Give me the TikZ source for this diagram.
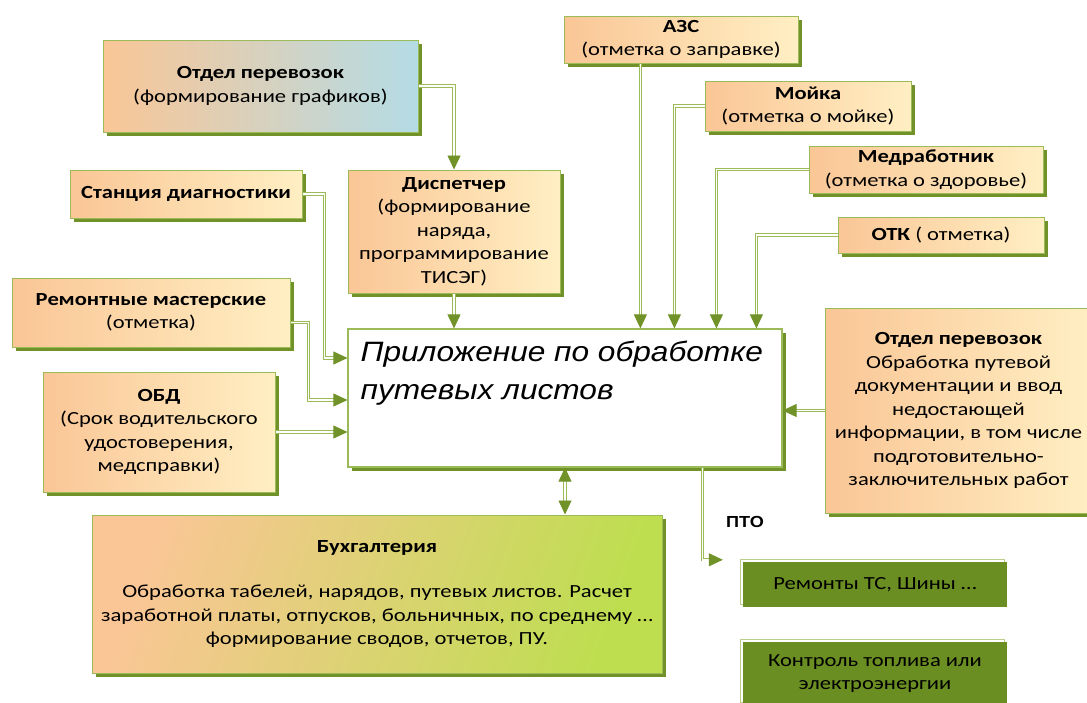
\documentclass[tikz,border=0pt]{standalone}
\usepackage{fontspec}
\setmainfont[FakeStretch=1.22]{Carlito}
\newfontfamily\arialfont[FakeStretch=1.13]{Liberation Sans}
\usetikzlibrary{arrows.meta,calc}
\definecolor{peach}{RGB}{250,198,150}
\definecolor{cream}{RGB}{255,239,195}
\definecolor{paleblue}{RGB}{180,220,230}
\definecolor{leaf}{RGB}{155,187,89}
\definecolor{olive}{RGB}{112,146,40}
\definecolor{lime}{RGB}{190,222,80}
\definecolor{ptogreen}{RGB}{107,142,35}

\begin{document}
\begin{tikzpicture}[x=1pt,y=-1pt]
\tikzstyle{shadowed}=[preaction={fill=olive,transform canvas={shift={(4pt,-4pt)}}}]
\tikzstyle{box}=[shadowed,draw=leaf,line width=1pt,left color=peach,right color=cream,
  align=center,inner sep=0pt,font=\fontsize{18.5}{23.5}\selectfont]
\tikzstyle{appbox}=[shadowed,draw=leaf,line width=1.2pt,fill=white,inner sep=0pt]
\tikzstyle{ptobox}=[preaction={fill=white,draw=leaf!70,line width=0.8pt,transform canvas={shift={(-3pt,3pt)}}},
  fill=ptogreen,align=center,inner sep=0pt,font=\fontsize{18.5}{23.5}\selectfont]
\tikzstyle{link}=[draw=leaf,line width=0.8pt,double=white,double distance=1.6pt,
  -{Triangle[length=14pt,width=13pt,color=olive]}]
\useasboundingbox (0,0) rectangle (1087,702);

\node [box,minimum width=315,minimum height=92,right color=paleblue] (perev) at (260.5,86)
  {\textbf{Отдел перевозок}\\(формирование графиков)};
\node [box,minimum width=232,minimum height=48] (diag) at (186,194) {\textbf{Станция диагностики}};
\node [box,minimum width=212,minimum height=123] (disp) at (454,231.5)
  {\textbf{Диспетчер}\\(формирование\\наряда,\\программирование\\ТИСЭГ)};
\node [box,minimum width=234,minimum height=47] (azs) at (681,39.5) {\textbf{АЗС}\\(отметка о заправке)};
\node [box,minimum width=206,minimum height=50] (moika) at (808,106) {\textbf{Мойка}\\(отметка о мойке)};
\node [box,minimum width=234,minimum height=47] (medr) at (926,169.5) {\textbf{Медработник}\\(отметка о здоровье)};
\node [box,minimum width=206,minimum height=36] (otk) at (941,235) {\textbf{ОТК} ( отметка)};
\node [box,minimum width=278,minimum height=69] (remont) at (151,312.5) {\textbf{Ремонтные мастерские}\\(отметка)};
\node [box,minimum width=232,minimum height=120] (obd) at (159,432)
  {\textbf{ОБД}\\(Срок водительского\\удостоверения,\\медсправки)};
\node [appbox,minimum width=434,minimum height=138,
  label={[anchor=north west,xshift=13pt,yshift=-12pt,align=left,inner sep=0pt,
  font=\arialfont\itshape\fontsize{28}{38}\selectfont]north west:Приложение по обработке\\путевых листов}]
  (app) at (565,398) {};
\node [box,minimum width=267,minimum height=205] (perev2) at (958.5,410.5)
  {\textbf{Отдел перевозок}\\Обработка путевой\\документации и ввод\\недостающей\\информации, в том числе\\подготовительно-\\заключительных работ};
\node [box,minimum width=570,minimum height=158,right color=lime,shading angle=70] (buh) at (377,594)
  {\textbf{Бухгалтерия}\\[22pt]Обработка табелей, нарядов, путевых листов. Расчет\\заработной платы, отпусков, больничных, по среднему …\\формирование сводов, отчетов, ПУ.};
\node [ptobox,minimum width=264,minimum height=45] (remts) at (875,584.5) {Ремонты ТС, Шины …};
\node [ptobox,minimum width=264,minimum height=63] (fuel) at (875,673.5) {Контроль топлива или\\электроэнергии};
\node [font=\arialfont\bfseries\fontsize{16}{18}\selectfont] (pto) at (745,522) {ПТО};

\coordinate (in1) at ($(app.north west)+(293,0)$);
\coordinate (in2) at ($(app.north west)+(327,0)$);
\coordinate (in3) at ($(app.north west)+(369,0)$);
\coordinate (in4) at ($(app.north west)+(409,0)$);
\coordinate (w1) at ($(app.west)+(0,-40)$);
\coordinate (w2) at ($(app.west)+(0,2)$);
\coordinate (ptoend) at ($(remts.north west)+(-20,-2)$);

\draw [link] (perev.east) -| (disp.north);
\draw [link] (diag.east) -| ($(w1)+(-23,0)$) -- (w1);
\draw [link] ($(remont.east)+(0,10)$) -| ($(w2)+(-39,0)$) -- (w2);
\draw [link] (obd.east) -- (obd.east -| app.west);
\draw [link] (disp.south) -- (disp.south |- app.north);
\draw [link] (azs.south -| in1) -- (in1);
\draw [link] (moika.west) -| (in2);
\draw [link] (medr.west) -| (in3);
\draw [link] (otk.west) -| (in4);
\draw [link] (perev2.west) -- (perev2.west -| app.east);
\draw [link,{Triangle[length=14pt,width=13pt,color=olive]}-{Triangle[length=14pt,width=13pt,color=olive]}]
  (app.south) -- (app.south |- buh.north);
\draw [link] ($(app.south west)+(355,0)$) |- (ptoend);
\end{tikzpicture}
\end{document}
